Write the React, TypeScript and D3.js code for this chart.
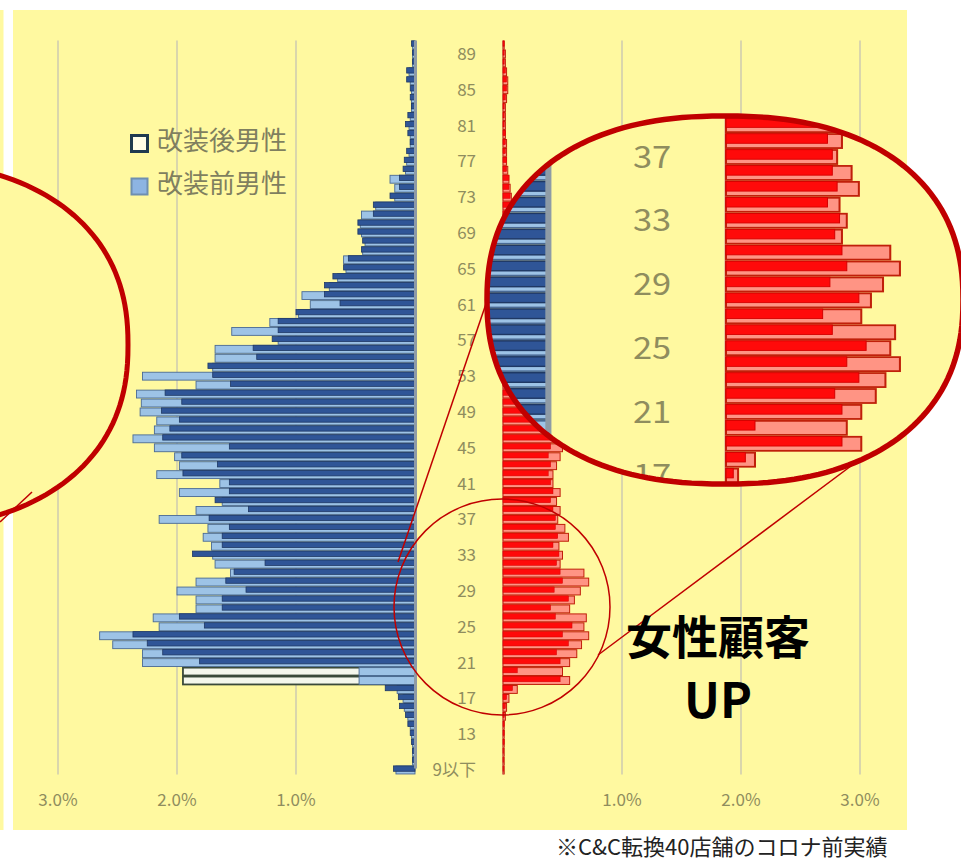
import React from 'react';
import * as d3 from 'd3';

// 年齢カテゴリ（下から上へ）
const ages = ['9以下', ...d3.range(10, 90).map(String), '90以上'];

// 男性（%）改装後 / 改装前
const maleAfter = [
  0.18,
  0.02, 0.02, 0.03, 0.04, 0.06, 0.08, 0.13, 0.14, 0.25,
  1.95, 1.95, 1.81, 2.12, 2.25, 2.37, 1.77, 1.98, 1.62, 1.62,
  1.42, 1.59, 1.52, 1.26, 1.87, 1.62, 1.62, 1.56, 1.73, 1.40,
  1.68, 1.56, 1.56, 1.95, 1.66, 1.96, 1.56, 2.12, 2.06, 1.98,
  2.13, 1.96, 2.10, 1.55, 1.70, 1.74, 1.33, 1.36, 1.20, 1.15,
  1.15, 1.00, 0.63, 0.76, 0.76, 0.69, 0.60, 0.56, 0.45, 0.44,
  0.48, 0.48, 0.35, 0.35, 0.21, 0.13, 0.13, 0.10, 0.09, 0.07,
  0.04, 0.06, 0.08, 0.06, 0.03, 0.04, 0.04, 0.07, 0.07, 0.02,
  0.02, 0.03,
];
const maleBefore = [
  0.16,
  0.02, 0.02, 0.02, 0.03, 0.04, 0.06, 0.09, 0.10, 0.15,
  0.47, 0.47, 2.29, 2.29, 2.54, 2.65, 2.15, 2.20, 1.84, 1.84,
  2.00, 1.84, 1.55, 1.68, 1.70, 1.71, 1.78, 1.74, 2.15, 1.84,
  1.62, 1.98, 1.64, 2.17, 1.98, 2.02, 2.19, 2.37, 2.19, 2.17,
  2.31, 2.30, 2.34, 1.84, 2.29, 1.70, 1.68, 1.68, 1.15, 1.54,
  1.22, 0.98, 0.88, 0.95, 0.72, 0.65, 0.58, 0.60, 0.44, 0.42,
  0.45, 0.46, 0.45, 0.33, 0.17, 0.17, 0.21, 0.08, 0.07, 0.05,
  0.04, 0.04, 0.05, 0.04, 0.03, 0.03, 0.03, 0.04, 0.05, 0.02,
  0.02, 0.02,
];

// 女性（%）改装後 / 改装前
const femaleAfter = [
  0.01,
  0.01, 0.01, 0.01, 0.01, 0.01, 0.02, 0.03, 0.05, 0.12,
  0.56, 0.50, 0.56, 0.62, 0.66, 0.72, 0.68, 0.70, 0.56, 0.60,
  0.65, 0.72, 0.68, 0.48, 0.50, 0.47, 0.55, 0.52, 0.46, 0.48,
  0.45, 0.48, 0.42, 0.42, 0.45, 0.48, 0.50, 0.52, 0.46, 0.44,
  0.42, 0.40, 0.38, 0.36, 0.34, 0.32, 0.30, 0.28, 0.27, 0.25,
  0.24, 0.22, 0.21, 0.20, 0.18, 0.17, 0.16, 0.15, 0.14, 0.13,
  0.12, 0.11, 0.10, 0.09, 0.07, 0.06, 0.05, 0.04, 0.03, 0.03,
  0.03, 0.02, 0.02, 0.02, 0.02, 0.03, 0.04, 0.04, 0.03, 0.02,
  0.02, 0.01,
];
const femaleBefore = [
  0.005,
  0.005, 0.005, 0.01, 0.01, 0.01, 0.01, 0.02, 0.03, 0.08,
  0.48, 0.12, 0.48, 0.45, 0.55, 0.50, 0.58, 0.44, 0.40, 0.55,
  0.43, 0.50, 0.48, 0.45, 0.47, 0.42, 0.46, 0.44, 0.44, 0.42,
  0.40, 0.42, 0.40, 0.38, 0.40, 0.38, 0.40, 0.42, 0.40, 0.38,
  0.36, 0.35, 0.33, 0.31, 0.30, 0.28, 0.27, 0.25, 0.24, 0.22,
  0.21, 0.20, 0.19, 0.18, 0.16, 0.15, 0.14, 0.13, 0.12, 0.11,
  0.10, 0.09, 0.08, 0.08, 0.06, 0.05, 0.05, 0.03, 0.03, 0.02,
  0.02, 0.02, 0.01, 0.01, 0.01, 0.02, 0.03, 0.03, 0.02, 0.01,
  0.01, 0.01,
];

const xTicks = [1, 2, 3];
const legendLabels = ['改装後男性', '改装前男性'];
const callout = ['女性顧客', 'UP'];
const footnote = '※C&C転換40店舗のコロナ前実績';

const font = "'Noto Sans CJK JP', 'Noto Sans', sans-serif";
const panel = '#FFF9A0';
const accent = '#C00000';
const labelColor = '#8F8D5E';

const yScale = d3.scaleBand<string>().domain([...ages].reverse()).range([40.5, 774.5]);
const xMale = d3.scaleLinear().domain([0, 3]).range([415, 58]);
const xFemale = d3.scaleLinear().domain([0, 3]).range([503, 860]);
const pct = d3.format('.1%');

// 角の丸い楕円（虫眼鏡の枠）
function blob(cx: number, cy: number, a: number, b: number, n = 2.3) {
  const pts = d3.range(0, 360, 2).map((deg) => {
    const t = (deg * Math.PI) / 180;
    const c = Math.cos(t);
    const s = Math.sin(t);
    return [
      cx + a * Math.sign(c) * Math.pow(Math.abs(c), 2 / n),
      cy + b * Math.sign(s) * Math.pow(Math.abs(s), 2 / n),
    ] as [number, number];
  });
  return d3.line().curve(d3.curveLinearClosed)(pts) as string;
}

const bigBlob = blob(725, 300, 238, 184);
const leftBlob = blob(-110, 345, 238, 184);

const ChartBody = () => {
  const bw = yScale.bandwidth();
  const hollow = (i: number) => maleAfter[i] > maleBefore[i] * 2.5 && maleAfter[i] > 0.3;
  const [top, bottom] = yScale.range();
  return (
    <g id="chart">
      {xTicks.map((t) => (
        <g key={t}>
          <line x1={xMale(t)} x2={xMale(t)} y1={top} y2={bottom} stroke="#DAD6AC" strokeWidth={2} />
          <line x1={xFemale(t)} x2={xFemale(t)} y1={top} y2={bottom} stroke="#DAD6AC" strokeWidth={2} />
        </g>
      ))}
      <line x1={xFemale(0)} x2={xFemale(0)} y1={top} y2={bottom} stroke="#EBCB9E" strokeWidth={2} />

      {/* 男性 */}
      {ages.map((a, i) =>
        hollow(i) ? (
          <rect key={'mh' + a} x={xMale(maleAfter[i])} y={yScale(a)! + bw * 0.06}
            width={xMale(0) - xMale(maleAfter[i])} height={bw * 0.88}
            fill="#F4F7EC" stroke="#3A4A3A" strokeWidth={1.8} />
        ) : null
      )}
      {ages.map((a, i) => (
        <rect key={'mb' + a} x={xMale(maleBefore[i])} y={yScale(a)! + bw * 0.06}
          width={xMale(0) - xMale(maleBefore[i])} height={bw * 0.88}
          fill="#9DC3E6" stroke="#4A6A94" strokeWidth={0.9} />
      ))}
      {ages.map((a, i) =>
        hollow(i) ? null : (
          <rect key={'ma' + a} x={xMale(maleAfter[i])} y={yScale(a)! + bw * 0.04}
            width={xMale(0) - xMale(maleAfter[i])} height={bw * 0.6}
            fill="#2F5597" stroke="#1F3864" strokeWidth={0.8} />
        )
      )}
      <line x1={xMale(0) + 0.5} x2={xMale(0) + 0.5} y1={top} y2={bottom - 6} stroke="#8E9BA6" strokeWidth={3} />

      {/* 女性 */}
      {ages.map((a, i) => (
        <rect key={'fa' + a} x={xFemale(0)} y={yScale(a)! + bw * 0.06}
          width={xFemale(femaleAfter[i]) - xFemale(0)} height={bw * 0.88}
          fill="#FF9484" stroke="#C0200A" strokeWidth={1} />
      ))}
      {ages.map((a, i) => (
        <rect key={'fb' + a} x={xFemale(0)} y={yScale(a)! + bw * 0.04}
          width={xFemale(femaleBefore[i]) - xFemale(0)} height={bw * 0.6}
          fill="#FF0A0A" stroke="#D40000" strokeWidth={0.5} />
      ))}

      {/* 年齢ラベル */}
      {ages.map((a, i) =>
        i % 4 === 0 ? (
          <text key={'l' + a} x={476} y={yScale(a)! + bw / 2 + 6} textAnchor="end"
            fontSize={17} fill={labelColor}>{a}</text>
        ) : null
      )}
    </g>
  );
};

export default function App() {
  const sx = 2.03;
  const sy = 1.78;
  const age37 = yScale('37')! + yScale.bandwidth() / 2;
  const tx = 726 - xFemale(0) * sx;
  const ty = 157 - age37 * sy;
  return (
    <svg width={961} height={866} style={{ position: 'absolute', left: 0, top: 0 }} fontFamily={font}>
      <defs>
        <clipPath id="magClip">
          <path d={bigBlob} />
        </clipPath>
      </defs>
      <rect width={961} height={866} fill="#ffffff" />
      <rect x={0} y={10} width={3.5} height={820} fill={panel} />
      <rect x={13} y={10} width={894} height={820} fill={panel} />

      <ChartBody />

      {xTicks.map((t) => (
        <g key={'t' + t} fontSize={17} fill={labelColor} textAnchor="middle">
          <text x={xMale(t)} y={806}>{pct(t / 100)}</text>
          <text x={xFemale(t)} y={806}>{pct(t / 100)}</text>
        </g>
      ))}

      {/* 凡例 */}
      <rect x={131.5} y={135.5} width={16} height={16} fill="#FFFDE6" stroke="#1F3A4F" strokeWidth={3} />
      <rect x={131.5} y={178.5} width={16} height={16} fill="#8DB4E2" stroke="#6F8FB0" strokeWidth={2} />
      {legendLabels.map((l, i) => (
        <text key={l} x={157} y={150 + i * 43} fontSize={26} fill="#7F7F5F">{l}</text>
      ))}

      {/* 小さい円と引き出し線 */}
      <circle cx={502} cy={607} r={108} fill="none" stroke={accent} strokeWidth={1.5} />
      <line x1={398} y1={562} x2={490} y2={292} stroke={accent} strokeWidth={1.5} />
      <line x1={598} y1={655} x2={863} y2={457} stroke={accent} strokeWidth={1.5} />

      {/* 左の虫眼鏡 */}
      <path d={leftBlob} fill={panel} stroke={accent} strokeWidth={5} />
      <line x1={32} y1={492} x2={0} y2={522} stroke={accent} strokeWidth={1.5} />

      {/* 右の拡大図 */}
      <path d={bigBlob} fill={panel} />
      <g clipPath="url(#magClip)">
        <use href="#chart" transform={`translate(${tx},${ty}) scale(${sx},${sy})`} />
      </g>
      <path d={bigBlob} fill="none" stroke={accent} strokeWidth={5.5} />

      <text x={718} y={654} textAnchor="middle" fontSize={46} fontWeight="bold" fill="#000">{callout[0]}</text>
      <text x={718} y={718} textAnchor="middle" fontSize={48} fontWeight="bold" fill="#000">{callout[1]}</text>

      <text x={556} y={855} fontSize={22} fill="#222">{footnote}</text>
    </svg>
  );
}
